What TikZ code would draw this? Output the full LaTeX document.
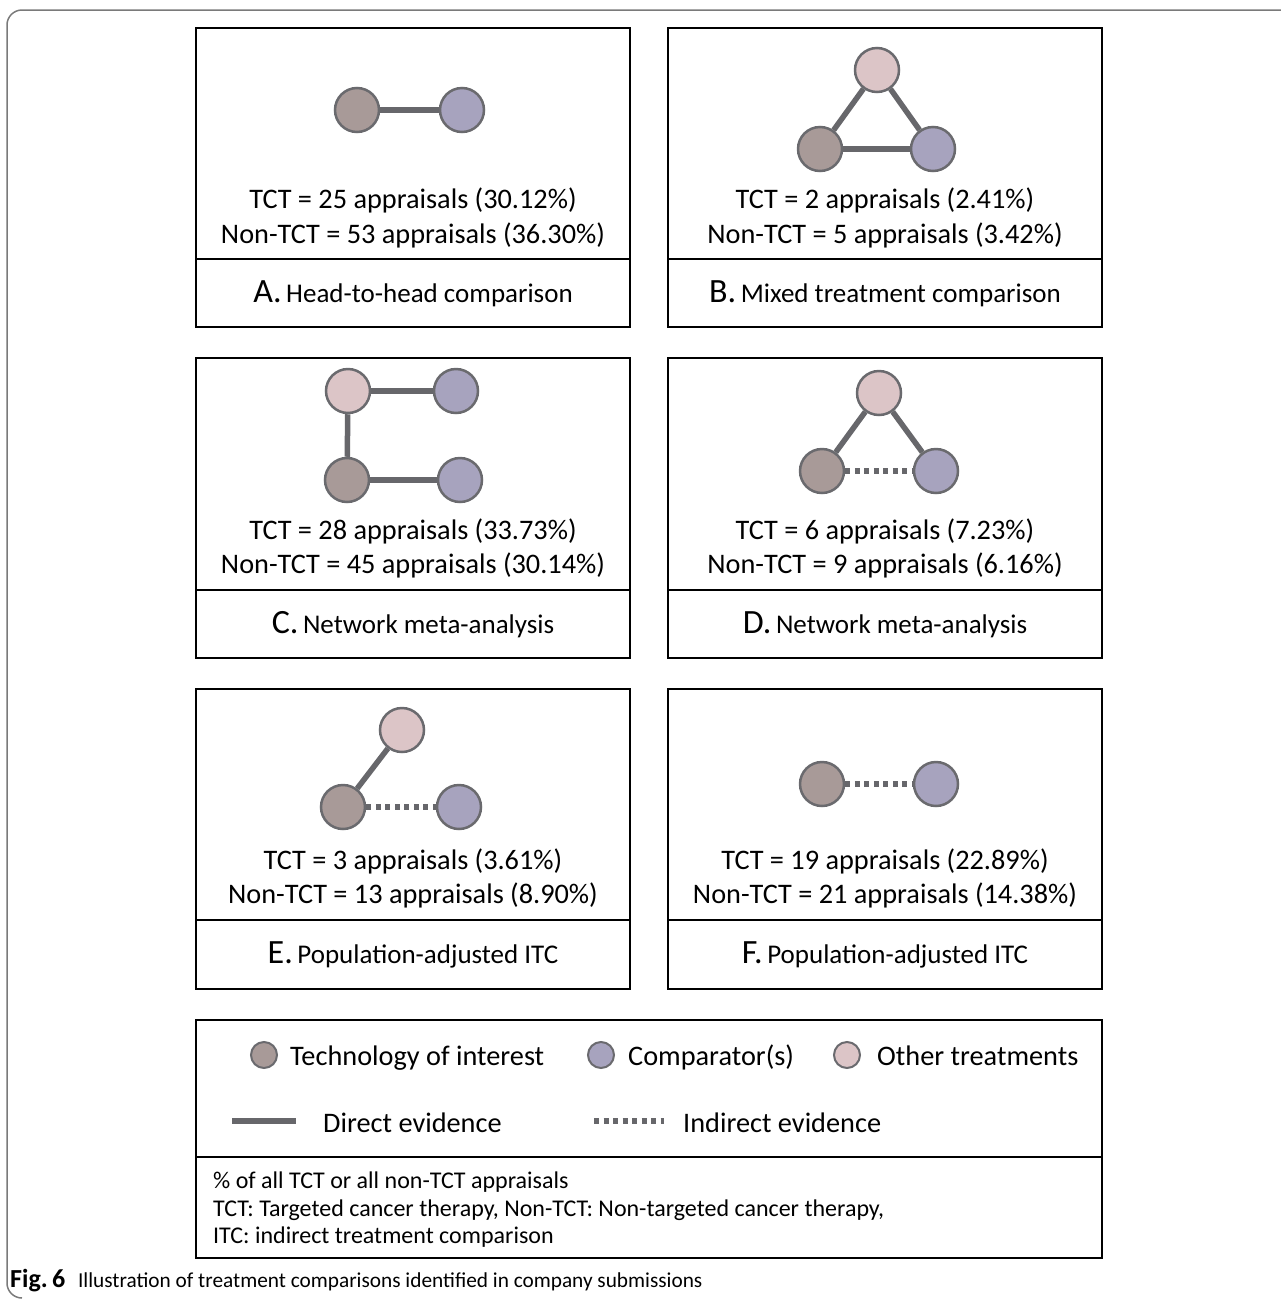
\documentclass[tikz,border=0pt]{standalone}
\usepackage{fontspec}
\setmainfont{Carlito}
\definecolor{edgec}{HTML}{6A6A6E}
\definecolor{linec}{HTML}{67676B}
\definecolor{brownc}{HTML}{A89A98}
\definecolor{purplec}{HTML}{A7A3BE}
\definecolor{pinkc}{HTML}{DCC5C7}
\definecolor{framec}{HTML}{7A7A7A}
\tikzset{
  tnode/.style={circle, draw=edgec, line width=2.5pt, minimum size=44pt, inner sep=0pt},
  lnode/.style={circle, draw=edgec, line width=2pt, minimum size=26pt, inner sep=0pt},
  techn/.style={fill=brownc},
  compn/.style={fill=purplec},
  othern/.style={fill=pinkc},
  direct/.style={draw=linec, line width=5.5pt},
  indirect/.style={draw=linec, line width=5.5pt, dash pattern=on 5pt off 4.5pt},
  panelbox/.style={draw=black, line width=2.5pt},
  stattext/.style={font=\fontsize{28.3}{32}\selectfont, inner sep=0pt},
  titletext/.style={font=\fontsize{27}{30}\selectfont, inner sep=0pt},
  legtext/.style={font=\fontsize{28.3}{32}\selectfont, inner sep=0pt, anchor=west, text height=20pt, text depth=6pt},
  notetext/.style={font=\fontsize{24}{27}\selectfont, inner sep=0pt, anchor=west, text height=17pt, text depth=5pt},
}
\newcommand{\bigletter}[1]{{\fontsize{34}{36}\selectfont #1}\,}
\begin{document}
\begin{tikzpicture}[x=1pt,y=-1pt]
\useasboundingbox (0,0) rectangle (1281,1299);
% outer frame
\draw[framec, line width=1.5pt] (1281,10) -- (22,10) arc[start angle=270,end angle=180,radius=15] -- (7,1283) arc[start angle=180,end angle=90,radius=15];

% ---------- Panel A ----------
\draw[panelbox] (196,28) rectangle (630,327);
\draw[panelbox] (196,259) -- (630,259);
\node[tnode,techn] (a1) at (357,110) {};
\node[tnode,compn] (a2) at (462,110) {};
\draw[direct] (a1) -- (a2);
\node[stattext] (at1) at (413,200) {TCT = 25 appraisals (30.12\%)};
\node[stattext] (at2) at (413,235) {Non-TCT = 53 appraisals (36.30\%)};
\node[titletext] (att) at (413,294) {\bigletter{A.}Head-to-head comparison};

% ---------- Panel B ----------
\draw[panelbox] (668,28) rectangle (1102,327);
\draw[panelbox] (668,259) -- (1102,259);
\node[tnode,othern] (b0) at (877,70) {};
\node[tnode,techn] (b1) at (820,149) {};
\node[tnode,compn] (b2) at (933,149) {};
\draw[direct] (b0) -- (b1);
\draw[direct] (b0) -- (b2);
\draw[direct] (b1) -- (b2);
\node[stattext] (bt1) at (885,200) {TCT = 2 appraisals (2.41\%)};
\node[stattext] (bt2) at (885,235) {Non-TCT = 5 appraisals (3.42\%)};
\node[titletext] (btt) at (885,294) {\bigletter{B.}Mixed treatment comparison};

% ---------- Panel C ----------
\draw[panelbox] (196,358) rectangle (630,658);
\draw[panelbox] (196,590) -- (630,590);
\node[tnode,othern] (c0) at (348,391) {};
\node[tnode,compn] (c3) at (456,391) {};
\node[tnode,techn] (c1) at (347,480) {};
\node[tnode,compn] (c2) at (460,480) {};
\draw[direct] (c0) -- (c3);
\draw[direct] (c0) -- (c1);
\draw[direct] (c1) -- (c2);
\node[stattext] (ct1) at (413,531) {TCT = 28 appraisals (33.73\%)};
\node[stattext] (ct2) at (413,565) {Non-TCT = 45 appraisals (30.14\%)};
\node[titletext] (ctt) at (413,625) {\bigletter{C.}Network meta-analysis};

% ---------- Panel D ----------
\draw[panelbox] (668,358) rectangle (1102,658);
\draw[panelbox] (668,590) -- (1102,590);
\node[tnode,othern] (d0) at (879,393) {};
\node[tnode,techn] (d1) at (822,471) {};
\node[tnode,compn] (d2) at (936,471) {};
\draw[direct] (d0) -- (d1);
\draw[direct] (d0) -- (d2);
\draw[indirect] (d1) -- (d2);
\node[stattext] (dt1) at (885,531) {TCT = 6 appraisals (7.23\%)};
\node[stattext] (dt2) at (885,565) {Non-TCT = 9 appraisals (6.16\%)};
\node[titletext] (dtt) at (885,625) {\bigletter{D.}Network meta-analysis};

% ---------- Panel E ----------
\draw[panelbox] (196,689) rectangle (630,989);
\draw[panelbox] (196,920) -- (630,920);
\node[tnode,othern] (e0) at (402,730) {};
\node[tnode,techn] (e1) at (343,807) {};
\node[tnode,compn] (e2) at (459,807) {};
\draw[direct] (e0) -- (e1);
\draw[indirect] (e1) -- (e2);
\node[stattext] (et1) at (413,861) {TCT = 3 appraisals (3.61\%)};
\node[stattext] (et2) at (413,895) {Non-TCT = 13 appraisals (8.90\%)};
\node[titletext] (ett) at (413,955) {\bigletter{E.}Population-adjusted ITC};

% ---------- Panel F ----------
\draw[panelbox] (668,689) rectangle (1102,989);
\draw[panelbox] (668,920) -- (1102,920);
\node[tnode,techn] (f1) at (822,784) {};
\node[tnode,compn] (f2) at (936,784) {};
\draw[indirect] (f1) -- (f2);
\node[stattext] (ft1) at (885,861) {TCT = 19 appraisals (22.89\%)};
\node[stattext] (ft2) at (885,895) {Non-TCT = 21 appraisals (14.38\%)};
\node[titletext] (ftt) at (885,955) {\bigletter{F.}Population-adjusted ITC};

% ---------- Legend ----------
\draw[panelbox] (196,1020) rectangle (1102,1258);
\draw[panelbox] (196,1157) -- (1102,1157);
\node[lnode,techn] (lt) at (264,1055) {};
\node[legtext] (ltt) at (290,1058) {Technology of interest};
\node[lnode,compn] (lc) at (601,1055) {};
\node[legtext] (lct) at (628,1058) {Comparator(s)};
\node[lnode,othern] (lo) at (847,1055) {};
\node[legtext] (lot) at (877,1058) {Other treatments};
\coordinate (ld1) at (232,1121);
\coordinate (ld2) at (296,1121);
\draw[direct] (ld1) -- (ld2);
\node[legtext] (ldt) at (323,1125) {Direct evidence};
\coordinate (li1) at (594,1121);
\coordinate (li2) at (664,1121);
\draw[indirect] (li1) -- (li2);
\node[legtext] (lit) at (683,1125) {Indirect evidence};
\node[notetext] (n1) at (213,1182) {\% of all TCT or all non-TCT appraisals};
\node[notetext] (n2) at (213,1210) {TCT: Targeted cancer therapy, Non-TCT: Non-targeted cancer therapy,};
\node[notetext] (n3) at (213,1237) {ITC: indirect treatment comparison};

% ---------- Caption ----------
\node[anchor=west, inner sep=0pt, font=\fontsize{21.3}{24}\selectfont] (cap) at (10,1281) {{\fontsize{26}{28}\selectfont\textbf{Fig.\,6}}\hspace{0.6em}Illustration of treatment comparisons identified in company submissions};
\end{tikzpicture}
\end{document}
